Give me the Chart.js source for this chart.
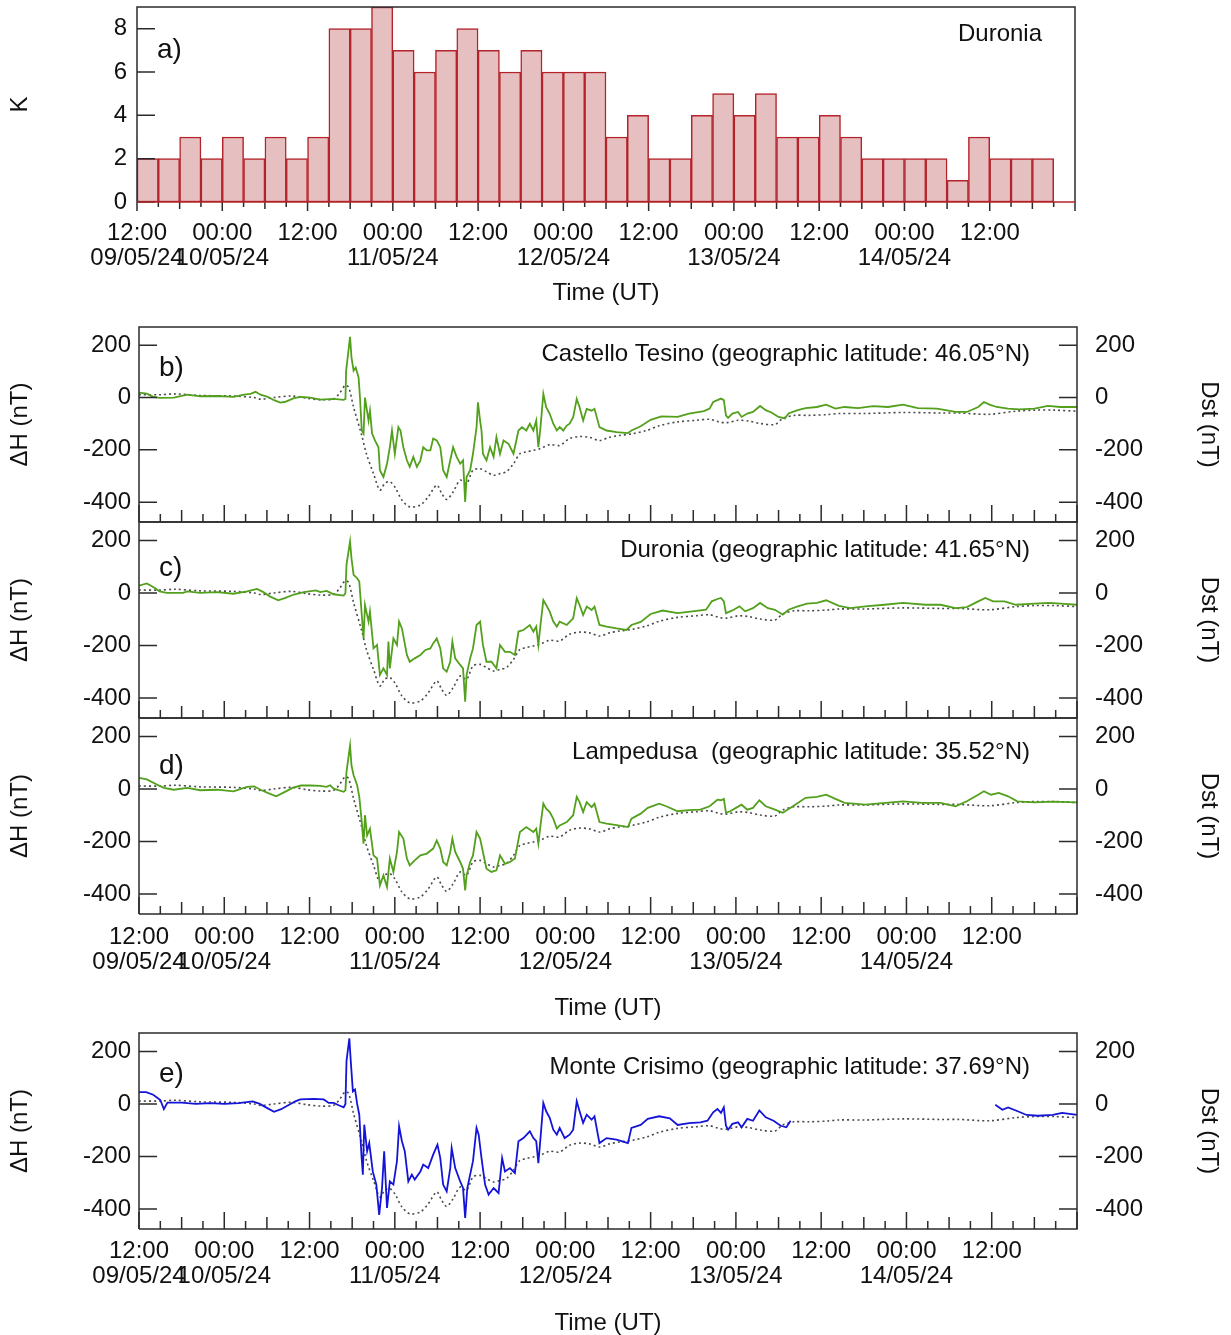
<!DOCTYPE html>
<html>
<head>
<meta charset="utf-8">
<script src="https://cdn.jsdelivr.net/npm/chart.js@4.4.1/dist/chart.umd.min.js"></script>
<style>
  body { margin: 0; background: #fff; width: 1231px; height: 1335px; overflow: hidden; position: relative; }
  canvas { position: absolute; left: 0; }
</style>
</head>
<body>
<canvas id="panelA" width="1231" height="310" style="top:0px"></canvas>
<canvas id="panelB" width="1231" height="207" style="top:317px"></canvas>
<canvas id="panelC" width="1231" height="208" style="top:512px"></canvas>
<canvas id="panelD" width="1231" height="318" style="top:708px"></canvas>
<canvas id="panelE" width="1231" height="317" style="top:1023px"></canvas>
<script>
// time axis: hours since 09/05/24 12:00 UT
const xTickHours = [0, 12, 24, 36, 48, 60, 72, 84, 96, 108, 120];
const xTickTimes = ['12:00', '00:00', '12:00', '00:00', '12:00', '00:00', '12:00', '00:00', '12:00', '00:00', '12:00'];
const xTickDates = ['09/05/24', '10/05/24', '', '11/05/24', '', '12/05/24', '', '13/05/24', '', '14/05/24', ''];

// K index at Duronia, 3-hour intervals, first interval starts at hour -3 (09/05 09:00)
const kFirstHour = -3;
const kValues = [3, 2, 2, 3, 2, 3, 2, 3, 2, 3, 8, 8, 9, 7, 6, 7, 8, 7, 6, 7, 6, 6, 6, 3, 4, 2, 2, 4, 5, 4, 5, 3, 3, 4, 3, 2, 2, 2, 2, 1, 3, 2, 2, 2];

// Dst index [hour, nT]
const dst = [[0,11],[3,11],[5,14],[8.6,8],[13.3,6],[16.2,0],[17.1,-6],[19,0],[21.4,6],[23.7,-3],[25.5,-8],[27.4,-5],[28.3,20],[29,46],[29.5,40],
  [30.2,-37],[31.35,-145],[32,-215],[33,-291],[33.9,-354],[34.6,-328],[35.3,-322],[36,-342],[37,-392],[38.1,-418],[39.6,-411],[40.7,-380],
  [41.9,-335],[42.6,-367],[43.3,-390],[44.2,-361],[45.2,-316],[46.1,-329],[47,-278],[48,-272],[48.9,-284],[49.9,-297],[50.8,-291],[51.7,-284],
  [52.7,-253],[53.6,-215],[54.5,-208],[55.5,-202],[56.4,-196],[57.8,-180],[59.2,-183],[60.6,-157],[62,-149],[63.4,-152],[64.8,-164],[66.2,-152],
  [67.6,-145],[69.5,-138],[71.4,-126],[73.2,-108],[75.8,-93],[78.4,-87],[80.3,-83],[81.6,-93],[82.7,-96],[84.3,-87],[85.8,-90],[87.4,-99],
  [89.5,-103],[90.6,-80],[92.2,-68],[94.3,-68],[96.9,-65],[98.5,-61],[102.2,-61],[107.5,-57],[112.8,-59],[115.4,-59],[119.7,-64],[123.4,-52],
  [126,-48],[128.7,-48],[132,-52]];

// ΔH Castello Tesino [hour, nT]
const castelloTesino = [[0,19],[1.1,15],[2,3],[2.9,-1],[4.9,0],[6.8,11],[8.6,5],[11,6],[13.3,3],[14.8,11],[15.7,14],[16.4,22],[17.1,11],[18.1,3],
  [19,-10],[19.9,-19],[20.6,-16],[21.8,-2],[22.8,3],[24.1,0],[25.5,-8],[27.4,-5],[28.8,-9],[29.05,-5],[29.15,103],[29.7,232],[29.9,154],[30.2,103],
  [30.5,115],[30.9,77],[31.1,0],[31.35,-126],[31.6,-138],[31.8,0],[32.3,-88],[32.5,-50],[32.8,-138],[33.2,-164],[33.7,-190],[33.9,-278],[34.4,-304],
  [34.9,-253],[35.3,-190],[35.6,-126],[36,-215],[36.5,-113],[36.8,-126],[37.2,-190],[37.7,-240],[38.1,-265],[38.6,-227],[39.1,-265],[39.6,-240],
  [40,-190],[40.5,-202],[41,-202],[41.4,-157],[41.9,-164],[42.4,-190],[42.8,-278],[43.3,-304],[43.8,-240],[44.2,-190],[44.7,-227],[45.2,-253],
  [45.6,-240],[45.9,-399],[46.1,-304],[46.6,-278],[47,-215],[47.5,-113],[47.7,-18],[48,-88],[48.2,-126],[48.4,-215],[48.9,-240],[49.4,-190],
  [49.9,-227],[50.3,-151],[50.8,-215],[51.3,-164],[52,-177],[52.7,-215],[53.4,-126],[53.9,-113],[54.5,-126],[55,-100],[55.5,-126],[55.9,-88],
  [56.2,-190],[56.5,-113],[56.9,14],[57.3,-37],[57.8,-62],[58.3,-100],[58.8,-126],[59.2,-113],[59.7,-126],[60.2,-107],[60.6,-100],[61.1,-75],
  [61.6,-5],[62,-37],[62.5,-88],[63,-43],[63.7,-50],[64.1,-43],[64.8,-113],[65.8,-126],[67.2,-132],[68.8,-136],[69.3,-126],[70.6,-110],[72,-85],
  [73.5,-72],[75.8,-74],[77.4,-61],[79.5,-52],[80.3,-42],[80.8,-17],[81.4,-10],[81.9,-4],[82.3,-10],[82.6,-68],[82.9,-78],[83.5,-61],[84.3,-55],
  [84.8,-74],[85.6,-61],[86.4,-55],[87.4,-32],[88.2,-48],[89,-57],[90,-74],[90.9,-80],[91.4,-61],[92.7,-48],[93.8,-40],[95.4,-36],[96.7,-27],
  [98,-42],[99.3,-36],[101.2,-40],[103.3,-33],[105.4,-36],[107.5,-27],[109.6,-40],[112.3,-42],[114.9,-55],[116.5,-55],[118.1,-36],[118.9,-17],
  [119.7,-27],[120.7,-36],[122.3,-42],[123.9,-45],[126,-42],[127.9,-32],[129.7,-36],[132,-36]];

// ΔH Duronia [hour, nT]
const duronia = [[0,28],[1.1,36],[2,23],[2.9,6],[3.9,0],[6.2,0],[6.8,6],[8.6,0],[11,3],[13.3,-3],[15.2,6],[16.6,15],[17.5,3],[18.4,-13],[19.6,-28],
  [20.6,-19],[21.8,-6],[23.2,3],[24.9,10],[25.5,3],[26.4,8],[27.4,-5],[28.8,-10],[29.05,-1],[29.2,107],[29.7,196],[29.9,132],[30.2,69],[30.7,56],
  [31,43],[31.35,-84],[31.6,-173],[31.8,-46],[32.3,-109],[32.5,-71],[33,-211],[33.5,-198],[33.9,-312],[34.4,-287],[34.9,-312],[35.1,-185],
  [35.3,-287],[35.8,-173],[36.3,-198],[36.6,-109],[37,-135],[37.7,-236],[38.1,-262],[38.8,-249],[39.6,-236],[40.3,-217],[41,-211],[41.4,-192],
  [41.9,-173],[42.4,-211],[42.8,-287],[43.3,-300],[43.8,-262],[44.1,-185],[44.5,-249],[45.2,-274],[45.6,-287],[45.9,-414],[46.1,-312],[46.6,-249],
  [47,-211],[47.5,-122],[48,-109],[48.4,-198],[48.9,-262],[49.6,-262],[50.3,-287],[50.8,-198],[51.5,-224],[52.2,-224],[52.9,-236],[53.4,-147],
  [54.1,-141],[55,-122],[55.5,-147],[55.9,-128],[56.2,-198],[56.5,-122],[56.9,-27],[57.3,-46],[57.8,-71],[58.3,-109],[58.8,-128],[59.2,-109],
  [60.2,-122],[61.1,-97],[61.6,-20],[62,-46],[62.5,-84],[63,-52],[63.7,-65],[64.1,-52],[64.8,-122],[65.8,-128],[67.2,-135],[68.6,-141],[69.3,-122],
  [70.6,-110],[72,-80],[73.7,-67],[75.8,-77],[77.9,-70],[79.8,-64],[80.6,-32],[81.4,-23],[81.9,-19],[82.3,-32],[82.6,-77],[83.2,-70],[83.7,-64],
  [84.5,-51],[85.3,-70],[86.4,-58],[87.4,-38],[88.5,-58],[89.5,-64],[90.6,-83],[91.4,-64],[92.7,-51],[94,-41],[95.4,-38],[96.7,-28],[98.5,-49],
  [100.1,-58],[102.2,-51],[104.9,-45],[107.5,-38],[110.7,-45],[112.8,-45],[114.9,-58],[116.5,-54],[118.1,-32],[119.1,-19],[120.2,-32],[121.8,-32],
  [123.4,-45],[126,-41],[128.1,-38],[130.2,-42],[132,-45]];

// ΔH Lampedusa [hour, nT]
const lampedusa = [[0,42],[1.1,36],[2.5,17],[3.5,4],[4.9,-3],[6.8,4],[8.6,-5],[11,-3],[13.3,-9],[15.2,8],[16.2,10],[17.1,-3],[18.1,-15],[19.3,-28],
  [20.4,-13],[21.6,4],[22.8,13],[24.1,13],[25.5,12],[26.4,8],[26.9,14],[27.4,1],[28.8,-11],[29.05,-5],[29.2,65],[29.7,165],[29.9,90],[30.2,52],
  [30.7,14],[31,-30],[31.35,-126],[31.6,-208],[31.8,-100],[32.1,-177],[32.5,-151],[33,-253],[33.5,-265],[33.9,-367],[34.4,-329],[34.9,-373],
  [35.3,-265],[35.8,-316],[36.3,-240],[36.6,-164],[37.2,-189],[37.7,-265],[38.1,-291],[38.8,-272],[39.6,-253],[40.5,-246],[41.4,-227],[41.9,-196],
  [42.4,-227],[42.8,-278],[43.3,-291],[43.8,-240],[44.1,-189],[44.5,-240],[45.2,-278],[45.6,-304],[45.9,-386],[46.1,-329],[46.6,-278],[47,-253],
  [47.5,-164],[48,-189],[48.4,-240],[48.9,-304],[49.6,-316],[50.3,-310],[50.8,-253],[51.5,-285],[52.2,-278],[52.9,-265],[53.6,-164],[54.5,-145],
  [55.5,-164],[55.9,-151],[56.2,-208],[56.5,-139],[56.9,-56],[57.3,-75],[57.8,-88],[58.3,-113],[58.8,-151],[59.2,-139],[60.2,-126],[61.1,-100],
  [61.6,-30],[62,-50],[62.5,-88],[63,-50],[63.7,-69],[64.1,-56],[64.8,-126],[65.8,-132],[67.2,-138],[68.8,-145],[69.3,-113],[70.6,-94],[71.6,-72],
  [73.2,-56],[74.2,-66],[75.8,-85],[77.4,-81],[79,-79],[80.3,-66],[81.4,-41],[81.9,-43],[82.3,-38],[82.6,-91],[83.2,-85],[84,-72],[84.8,-60],
  [85.6,-79],[86.4,-72],[87.3,-43],[88.2,-66],[89.5,-79],[90.6,-91],[91.7,-72],[93.8,-34],[95.4,-30],[96.7,-22],[98,-38],[99.3,-53],[102.2,-60],
  [107.5,-47],[110.2,-53],[112.8,-53],[114.9,-66],[116.5,-47],[118.1,-22],[118.9,-9],[119.9,-22],[121,-15],[122.3,-28],[123.6,-47],[126,-51],
  [128.6,-48],[132,-51]];

// ΔH Monte Crisimo [hour, nT], null = data gap
const monteCrisimo = [[0,45],[1,45],[2,35],[3,15],[3.5,-20],[4,5],[6,5],[8,0],[10,3],[12,0],[14,3],[16,10],[17,0],[18,-15],[19,-30],[20,-20],[21,-5],
  [22,10],[22.7,17],[24.6,19],[26,17],[26.7,4],[27.4,4],[28.1,-5],[28.8,-13],[29.05,0],[29.2,163],[29.6,250],[29.8,163],[30.1,48],[30.4,55],
  [30.7,0],[31,-41],[31.3,-193],[31.5,-269],[31.7,-79],[32.1,-180],[32.4,-149],[32.9,-257],[33.4,-307],[33.8,-422],[34.2,-320],[34.5,-180],
  [34.9,-396],[35.3,-295],[35.8,-307],[36.3,-218],[36.6,-85],[37,-142],[37.4,-180],[37.9,-295],[38.4,-269],[38.8,-288],[39.6,-257],[40,-231],
  [40.7,-244],[41.4,-193],[42,-155],[42.4,-206],[42.8,-307],[43.3,-333],[43.8,-244],[44,-168],[44.5,-244],[45.2,-295],[45.6,-320],[45.9,-434],
  [46.2,-320],[46.6,-269],[47,-218],[47.5,-91],[47.8,-117],[48.2,-206],[48.7,-307],[49.2,-345],[49.9,-320],[50.6,-339],[51.1,-206],[51.5,-257],
  [52.2,-244],[52.9,-263],[53.4,-142],[54.1,-130],[55,-104],[55.5,-130],[55.9,-142],[56.2,-225],[56.5,-130],[56.9,4],[57.3,-28],[57.8,-53],
  [58.3,-98],[58.8,-117],[59.2,-91],[59.9,-130],[60.6,-117],[61.1,-98],[61.6,10],[62,-28],[62.5,-72],[63,-41],[63.7,-60],[64.1,-47],[64.8,-149],
  [65.8,-130],[67.2,-136],[68.8,-149],[69.3,-91],[70.6,-80],[71.6,-57],[73.2,-47],[74.7,-55],[75.8,-80],[77.4,-73],[79,-70],[80,-64],[80.8,-32],
  [81.4,-19],[81.9,-34],[82.3,-13],[82.6,-83],[82.9,-98],[83.5,-76],[84.3,-70],[84.8,-89],[85.6,-57],[86.4,-64],[87.3,-25],[88.2,-51],[89.3,-64],
  [90.3,-83],[91.1,-89],[91.7,-64],[100,null],[120.5,-3],[121.5,-22],[122.3,-13],[123.4,-25],[124.9,-42],[126.5,-45],[128.6,-42],[129.9,-34],[132,-42]];

const FONT = '"Liberation Sans", Arial, Helvetica, sans-serif';
const tickFont = { family: FONT, size: 24, lineHeight: 25 / 24 };
const titleFont = { family: FONT, size: 24 };

function xTickLabel(v) {
  const i = xTickHours.indexOf(v);
  if (i < 0) return '';
  return xTickDates[i] ? [xTickTimes[i], xTickDates[i]] : xTickTimes[i];
}

// box, inward/outward tick marks and panel texts
const framePlugin = {
  id: 'frame',
  afterDraw(chart, args, o) {
    const { ctx, chartArea: a } = chart;
    const x = chart.scales.x, y = chart.scales.y;
    ctx.save();
    ctx.strokeStyle = '#2b2b2b';
    ctx.lineWidth = 1.5;
    ctx.beginPath();
    for (let h = 0; h <= 132; h += 3) {
      const px = x.getPixelForValue(h);
      const len = h % 12 === 0 ? o.tick[0] : (h % 6 === 0 ? o.tick[1] : o.tick[2]);
      ctx.moveTo(px, a.bottom);
      ctx.lineTo(px, o.outside ? a.bottom + len : a.bottom - len);
    }
    for (const t of y.ticks) {
      const py = y.getPixelForValue(t.value);
      ctx.moveTo(a.left, py);
      ctx.lineTo(a.left + 18, py);
      if (o.rightTicks) {
        ctx.moveTo(a.right, py);
        ctx.lineTo(a.right - 18, py);
      }
    }
    ctx.stroke();

    ctx.beginPath();
    ctx.moveTo(a.left, a.bottom);
    ctx.lineTo(a.left, a.top);
    ctx.lineTo(a.right, a.top);
    ctx.lineTo(a.right, a.bottom);
    if (!o.redBase) ctx.lineTo(a.left, a.bottom);
    ctx.stroke();
    if (o.redBase) {
      ctx.strokeStyle = '#b5232a';
      ctx.beginPath();
      ctx.moveTo(a.left, a.bottom);
      ctx.lineTo(a.right, a.bottom);
      ctx.stroke();
    }

    ctx.fillStyle = '#111';
    ctx.textBaseline = 'middle';
    ctx.textAlign = 'left';
    ctx.font = '28px ' + FONT;
    ctx.fillText(o.letter, a.left + 20, a.top + o.letterDy);
    ctx.textAlign = 'right';
    ctx.font = '24px ' + FONT;
    ctx.fillText(o.station, a.right - o.stationDx, a.top + o.stationDy);
    ctx.restore();
  }
};

function xScale(height, showLabels, padding, titlePad) {
  return {
    type: 'linear', min: 0, max: 132,
    display: showLabels,
    grid: { display: false, drawTicks: false },
    border: { display: false },
    afterBuildTicks: s => { s.ticks = xTickHours.map(v => ({ value: v })); },
    afterFit: s => { s.height = height; s.paddingLeft = 0; s.paddingRight = 0; },
    ticks: { font: tickFont, color: '#111', padding: padding, maxRotation: 0, autoSkip: false, callback: xTickLabel },
    title: { display: showLabels, text: 'Time (UT)', font: titleFont, color: '#111', padding: { bottom: titlePad } }
  };
}

function nTScale(position, width, title, pad, titlePad) {
  return {
    type: 'linear', position: position, min: -476, max: 270,
    grid: { display: false, drawTicks: false },
    border: { display: false },
    afterBuildTicks: s => { s.ticks = [-400, -200, 0, 200].map(v => ({ value: v })); },
    afterFit: s => { s.width = width; s.paddingTop = 0; s.paddingBottom = 0; },
    ticks: { font: tickFont, color: '#111', padding: pad },
    title: { display: true, text: title, font: titleFont, color: '#111', padding: { top: titlePad } }
  };
}

// panel a: K index bars
new Chart(document.getElementById('panelA'), {
  type: 'bar',
  data: {
    datasets: [{
      data: kValues.map((k, i) => ({ x: kFirstHour + i * 3 + 1.5, y: k })),
      backgroundColor: '#e6bfc1',
      borderColor: '#b5232a',
      borderWidth: 1.5,
      borderSkipped: false,
      barPercentage: 1,
      categoryPercentage: 1
    }]
  },
  options: {
    responsive: false, animation: false, events: [],
    layout: { padding: { top: 7, right: 156, left: 0, bottom: 0 } },
    plugins: {
      legend: { display: false }, tooltip: { enabled: false },
      frame: { tick: [9, 7, 5], outside: true, redBase: true, rightTicks: false,
        letter: 'a)', letterDy: 43, station: 'Duronia', stationDx: 33, stationDy: 27 }
    },
    scales: {
      x: Object.assign(xScale(108, true, 19, 2), { offset: false }),
      y: {
        min: 0, max: 9,
        grid: { display: false, drawTicks: false },
        border: { display: false },
        afterBuildTicks: s => { s.ticks = [0, 2, 4, 6, 8].map(v => ({ value: v })); },
        afterFit: s => { s.width = 137; s.paddingTop = 0; s.paddingBottom = 0; },
        ticks: { font: tickFont, color: '#111', padding: 10 },
        title: { display: true, text: 'K', font: titleFont, color: '#111', padding: { top: 6 } }
      }
    }
  },
  plugins: [framePlugin]
});

function stationChart(id, series, color, opts) {
  const toPoints = arr => arr.map(p => ({ x: p[0], y: p[1] }));
  new Chart(document.getElementById(id), {
    type: 'line',
    data: {
      datasets: [
        { data: toPoints(series), borderColor: color, borderWidth: 1.8, pointRadius: 0, tension: 0, spanGaps: false, yAxisID: 'y' },
        { data: toPoints(dst), borderColor: '#4a4a4a', borderWidth: 1.6, borderDash: [2, 3], pointRadius: 0, tension: 0.3, yAxisID: 'y2' }
      ]
    },
    options: {
      responsive: false, animation: false, events: [],
      layout: { padding: { top: 10, right: 0, left: 0, bottom: opts.bottomPad } },
      plugins: {
        legend: { display: false }, tooltip: { enabled: false },
        frame: { tick: [17, 12, 8], outside: false, redBase: false, rightTicks: true,
          letter: opts.letter, letterDy: opts.letterDy, station: opts.station, stationDx: 47, stationDy: opts.stationDy }
      },
      scales: {
        x: xScale(opts.xHeight, opts.showX, opts.xPad, opts.titlePad),
        y: nTScale('left', 139, 'ΔH (nT)', 8, 6),
        y2: nTScale('right', 154, 'Dst (nT)', 18, 8)
      }
    },
    plugins: [framePlugin]
  });
}

const green = '#52a01c';
stationChart('panelB', castelloTesino, green, { letter: 'b)', letterDy: 41, station: 'Castello Tesino (geographic latitude: 46.05°N)', stationDy: 27, showX: false, xHeight: 0, xPad: 0, titlePad: 0, bottomPad: 2 });
stationChart('panelC', duronia, green, { letter: 'c)', letterDy: 46, station: 'Duronia (geographic latitude: 41.65°N)', stationDy: 28, showX: false, xHeight: 0, xPad: 0, titlePad: 0, bottomPad: 2 });
stationChart('panelD', lampedusa, green, { letter: 'd)', letterDy: 48, station: 'Lampedusa  (geographic latitude: 35.52°N)', stationDy: 34, showX: true, xHeight: 112, xPad: 11, titlePad: 3, bottomPad: 0 });
stationChart('panelE', monteCrisimo, '#1414d8', { letter: 'e)', letterDy: 41, station: 'Monte Crisimo (geographic latitude: 37.69°N)', stationDy: 34, showX: true, xHeight: 111, xPad: 10, titlePad: 2, bottomPad: 0 });
</script>
</body>
</html>
